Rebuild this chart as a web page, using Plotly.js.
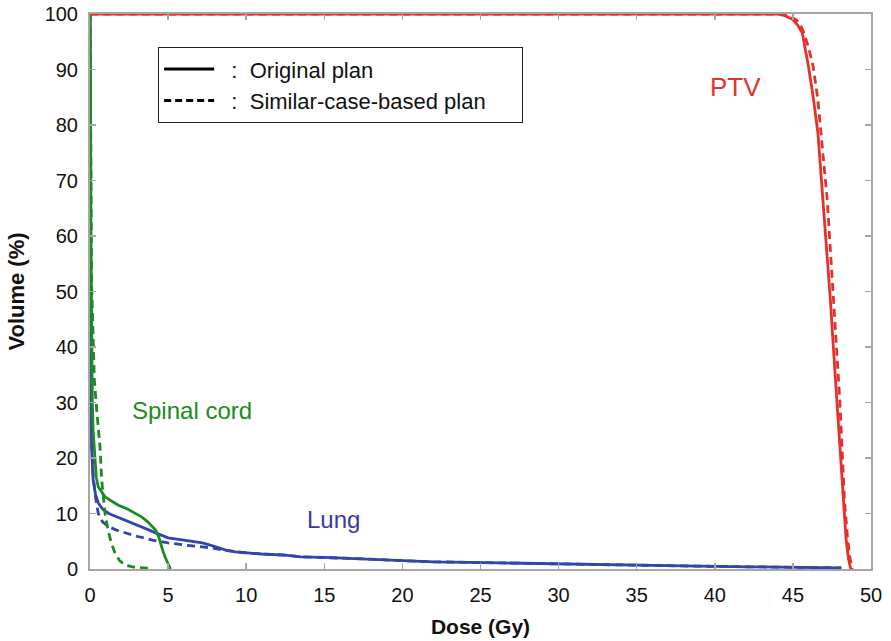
<!DOCTYPE html>
<html>
<head>
<meta charset="utf-8">
<script src="https://cdn.plot.ly/plotly-3.0.1.min.js"></script>
<style>html,body{margin:0;padding:0;background:#fff;}#chart{width:891px;height:641px;}</style>
</head>
<body>
<div id="chart"></div>
<script>
// ---- Data (dose in Gy, volume in %) ----
const ptvOrigDose = [0, 44.0, 44.5, 45.0, 45.3, 45.6, 46.0, 46.3, 46.6, 46.9, 47.2, 47.4, 47.6, 47.8, 48.0, 48.2, 48.4, 48.55, 48.7];
const ptvOrigVol  = [100, 100, 99.7, 99.0, 98.0, 96.6, 90.5, 85, 78.6, 67.7, 57, 48.5, 39.5, 30.5, 21.5, 12.4, 5.5, 2, 0];
const ptvSimDose  = [0, 44.2, 44.7, 45.2, 45.5, 45.7, 46.0, 46.3, 46.6, 46.8, 47.0, 47.2, 47.45, 47.7, 48.0, 48.3, 48.5, 48.65, 48.8];
const ptvSimVol   = [100, 100, 99.7, 99.0, 98.0, 96.6, 94, 90.5, 84.5, 78.6, 72.6, 66.5, 55.2, 44, 30.5, 12.4, 5.5, 2, 0];

const cordOrigDose = [0, 0.03, 0.06, 0.1, 0.15, 0.2, 0.3, 0.4, 0.53, 0.96, 1.4, 1.82, 2.4, 2.9, 3.3, 3.7, 4.0, 4.2, 4.4, 4.5, 4.65, 4.8, 5.0, 5.15];
const cordOrigVol  = [100, 90, 60, 40, 30, 25, 20, 16.5, 14.8, 13.0, 12.2, 11.5, 10.8, 10.1, 9.4, 8.5, 7.6, 7.0, 5.8, 4.7, 3.4, 2.2, 0.8, 0];
const cordSimDose  = [0, 0.03, 0.06, 0.1, 0.2, 0.28, 0.45, 0.64, 0.75, 0.85, 0.96, 1.16, 1.35, 1.6, 1.9, 2.25, 2.8, 3.5, 3.9];
const cordSimVol   = [100, 75, 58, 52, 42, 34, 28, 22, 16, 12.5, 10, 7, 4.8, 2.9, 1.5, 0.7, 0.35, 0.2, 0];

const lungOrigDose = [0, 0.02, 0.05, 0.1, 0.2, 0.35, 0.53, 0.8, 1.2, 1.7, 2.25, 2.8, 3.3, 3.8, 4.2, 5.0, 6.0, 7.2, 7.7, 8.2, 8.7, 9.3, 10, 11, 12.5, 13.5, 15, 17.8, 20, 22, 26.3, 30, 33.6, 38, 42.2, 45, 48.1];
const lungOrigVol  = [100, 60, 34, 22, 16, 13.5, 11.9, 10.8, 10, 9.4, 8.8, 8.2, 7.6, 7.0, 6.5, 5.6, 5.2, 4.7, 4.3, 3.8, 3.4, 3.1, 2.9, 2.7, 2.5, 2.2, 2.1, 1.8, 1.5, 1.3, 1.1, 0.9, 0.7, 0.55, 0.4, 0.25, 0.2];
const lungSimDose  = [0, 0.02, 0.05, 0.1, 0.2, 0.35, 0.53, 0.8, 1.2, 1.7, 2.25, 3.0, 4.0, 5.0, 6.1, 7.0, 7.8, 8.5, 9.3, 10, 11, 12.5, 13.5, 15, 17.8, 20, 22, 26.3, 30, 33.6, 38, 42.2, 45, 48.1];
const lungSimVol   = [100, 60, 36, 24, 17, 13, 10, 8.5, 7.6, 7.0, 6.5, 5.9, 5.2, 4.7, 4.3, 4.0, 3.8, 3.4, 3.1, 2.9, 2.7, 2.5, 2.2, 2.1, 1.8, 1.5, 1.3, 1.1, 0.9, 0.7, 0.55, 0.4, 0.25, 0.2];

const legendLabels = ['Original plan', 'Similar-case-based plan'];
const structLabels = ['Spinal cord', 'Lung', 'PTV'];

const RED = '#e5312b', GREEN = '#1e8a22', BLUE = '#3245a8';
const DASH = '8px,5px';
const W = 2.8;
const NB = '\u00a0';

function tr(x, y, color, dash) {
  return {x: x, y: y, type: 'scatter', mode: 'lines', showlegend: false, hoverinfo: 'skip',
          line: {color: color, width: W, dash: dash, shape: 'linear'}};
}

const data = [
  tr(lungSimDose, lungSimVol, BLUE, DASH),
  tr(lungOrigDose, lungOrigVol, BLUE, 'solid'),
  tr(cordSimDose, cordSimVol, GREEN, DASH),
  tr(cordOrigDose, cordOrigVol, GREEN, 'solid'),
  tr(ptvSimDose, ptvSimVol, RED, DASH),
  tr(ptvOrigDose, ptvOrigVol, RED, 'solid'),
  {x: [null], y: [null], type: 'scatter', mode: 'lines', name: NB + NB + ':' + NB + NB + legendLabels[0], showlegend: true,
   line: {color: '#000', width: 3, dash: 'solid'}},
  {x: [null], y: [null], type: 'scatter', mode: 'lines', name: NB + NB + ':' + NB + NB + legendLabels[1] + NB.repeat(5), showlegend: true,
   line: {color: '#000', width: 3, dash: '7px,4px'}}
];

const FONT = 'Liberation Sans, Arial, sans-serif';
const axisCommon = {
  showgrid: false, zeroline: false, showline: true, linecolor: '#a6a6a6', linewidth: 2,
  mirror: 'ticks', ticks: 'inside', ticklen: 6, tickwidth: 1.5, tickcolor: '#a6a6a6',
  tickfont: {family: FONT, size: 20, color: '#111'}
};

const layout = {
  width: 891, height: 641,
  margin: {l: 90, r: 20, t: 14, b: 72},
  paper_bgcolor: '#fff', plot_bgcolor: '#fff',
  font: {family: FONT, color: '#111'},
  xaxis: Object.assign({}, axisCommon, {
    range: [0, 50], tickvals: [0,5,10,15,20,25,30,35,40,45,50], ticklabelstandoff: 7,
    title: {text: 'Dose (Gy)', font: {family: FONT, size: 21, color: '#111', weight: 'bold'}, standoff: 14}
  }),
  yaxis: Object.assign({}, axisCommon, {
    range: [0, 100], tickvals: [0,10,20,30,40,50,60,70,80,90,100], ticklabelstandoff: 6,
    title: {text: 'Volume (%)', font: {family: FONT, size: 22, color: '#111', weight: 'bold'}, standoff: 14}
  }),
  showlegend: true,
  legend: {
    x: 0.087, y: 0.9405, xanchor: 'left', yanchor: 'top',
    bgcolor: '#fff', bordercolor: '#222', borderwidth: 1.2,
    font: {family: FONT, size: 22, color: '#111'},
    tracegroupgap: 0, itemwidth: 50
  },
  annotations: [
    {x: 6.5, y: 28.6, xref: 'x', yref: 'y', text: structLabels[0], showarrow: false,
     font: {family: FONT, size: 24, color: GREEN}},
    {x: 15.6, y: 9.0, xref: 'x', yref: 'y', text: structLabels[1], showarrow: false,
     font: {family: FONT, size: 24, color: '#3a3aa6'}},
    {x: 41.3, y: 86.8, xref: 'x', yref: 'y', text: structLabels[2], showarrow: false,
     font: {family: FONT, size: 26, color: RED}}
  ]
};

Plotly.newPlot('chart', data, layout, {staticPlot: true, displayModeBar: false});
</script>
</body>
</html>
